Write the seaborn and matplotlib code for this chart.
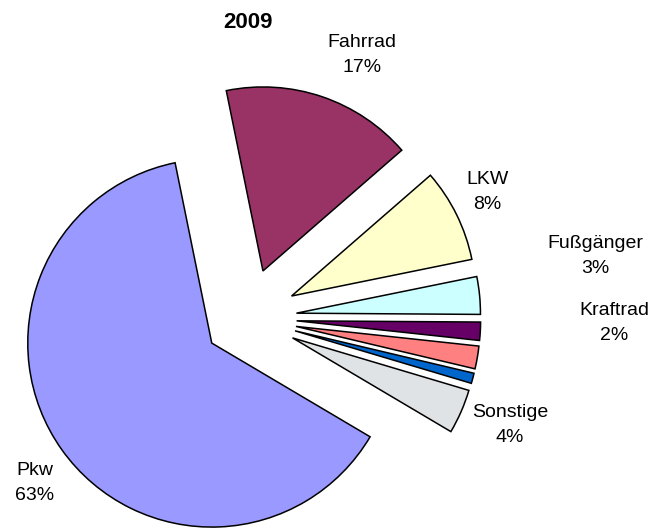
import matplotlib
matplotlib.use('Agg')
import matplotlib.pyplot as plt
import seaborn as sns

# data (clockwise from the top)
categories = ['Fahrrad', 'LKW', 'Fußgänger', 'Kraftrad', 'Bus', 'Straßenbahn', 'Sonstige', 'Pkw']
shares = [16.8, 8.2, 3.3, 1.6, 2.0, 0.9, 3.9, 63.3]
shown_labels = ['Fahrrad\n17%', 'LKW\n8%', 'Fußgänger\n3%', 'Kraftrad\n2%', '', '', 'Sonstige\n4%', 'Pkw\n63%']
colors = ['#993366', '#FFFFCC', '#CCFFFF', '#660066', '#FF8080', '#0066CC', '#E0E3E5', '#9999FF']

sns.set_style('white')
plt.rcParams['font.family'] = ['Liberation Sans', 'DejaVu Sans']

fig = plt.figure(figsize=(6.54, 5.30), dpi=100)
ax = fig.add_axes([0, 0, 1, 1])

ax.pie(shares, colors=colors, startangle=101.5, counterclock=False,
       explode=[0.27] * (len(shares) - 1) + [0.235], radius=1,
       wedgeprops=dict(edgecolor='black', linewidth=1.1))

# map pixel position of the pie centre (247, 318) and radius 184 px
r_px = 184.0
cx, cy = 247.0, 318.0
ax.set_xlim(-cx / r_px, (654 - cx) / r_px)
ax.set_ylim((cy - 530) / r_px, cy / r_px)
ax.set_aspect('equal')
ax.axis('off')

# label positions in figure pixels (Excel-style placement)
label_px = [(362, 55), (487, 192), (595, 256), (614, 323), None, None, (510, 425), (35, 483)]
for lab, pos in zip(shown_labels, label_px):
    if pos is None:
        continue
    fig.text(pos[0] / 654, 1 - pos[1] / 530, lab, ha='center', va='center',
             fontsize=14, linespacing=1.55, color='black')

fig.text(248 / 654, 1 - 22 / 530, '2009', ha='center', va='center',
         fontsize=16, fontweight='bold', color='black')

fig.savefig('out.png', dpi=100)
